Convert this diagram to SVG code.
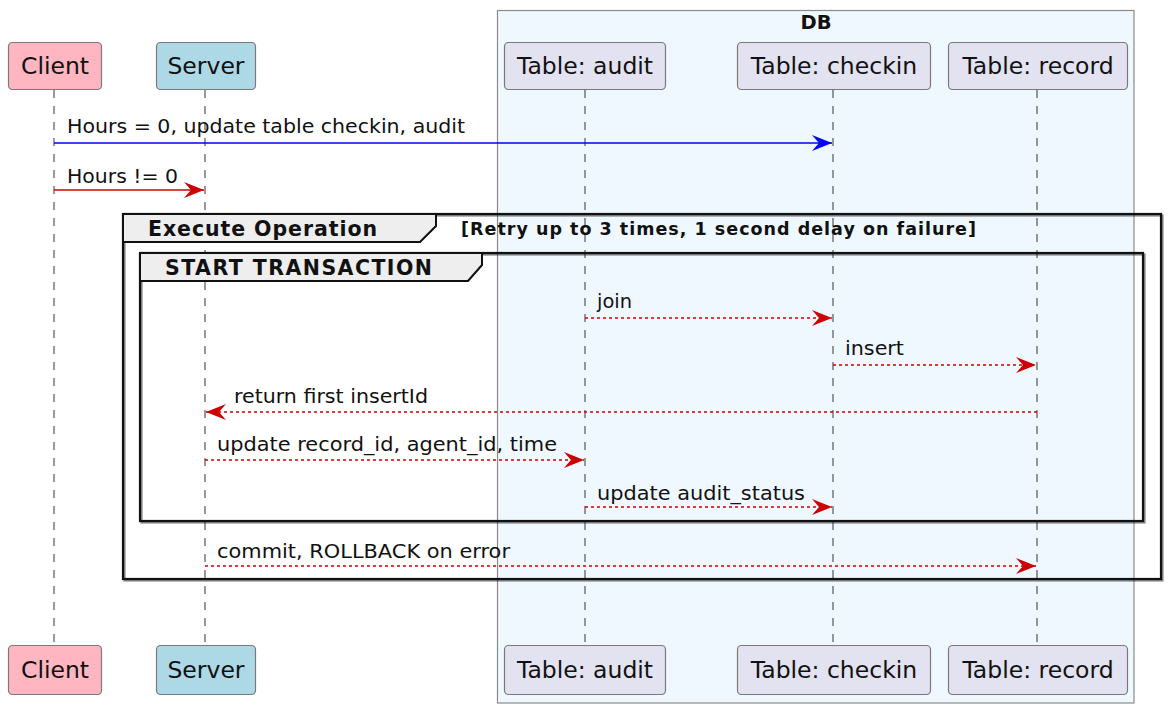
<svg xmlns="http://www.w3.org/2000/svg" width="1168" height="711" viewBox="0 0 1168 711">
<style>
.pbox{stroke:#7a7a7a;stroke-width:1.2}
.ptxt{font-family:"DejaVu Sans",sans-serif;font-size:23.5px;fill:#111;text-anchor:middle}
.life{stroke:#555;stroke-width:1.2;stroke-dasharray:8,8;fill:none}
.msg{font-family:"DejaVu Sans",sans-serif;font-size:19.5px;fill:#111}
.red{stroke:#cc0000;stroke-width:1.6;fill:none}
.reddash{stroke:#cc0000;stroke-width:1.6;fill:none;stroke-dasharray:3,3}
.frame{stroke:#111;stroke-width:2.2;fill:none}
.tab{fill:#eeeeee;stroke:#111;stroke-width:2}
.ftitle{font-family:"DejaVu Sans",sans-serif;font-weight:bold;font-size:20.5px;fill:#111}
.cond{font-family:"DejaVu Sans",sans-serif;font-weight:bold;font-size:17.5px;fill:#111}
</style>
<defs>
<marker id="ar" markerWidth="22" markerHeight="18" refX="20" refY="8" orient="auto" markerUnits="userSpaceOnUse">
<polygon points="0,0 20,8 0,16 7,8" fill="#cc0000"/>
</marker>
<marker id="ab" markerWidth="22" markerHeight="18" refX="20" refY="8" orient="auto" markerUnits="userSpaceOnUse">
<polygon points="0,0 20,8 0,16 7,8" fill="#0000ff"/>
</marker>
</defs>
<rect width="1168" height="711" fill="#ffffff"/>
<g id="DB">
<rect x="497.5" y="10.5" width="636.5" height="692.5" fill="#f0f8ff" stroke="#8a8a8a" stroke-width="1.2"/>
<text x="816" y="29" text-anchor="middle" class="ftitle" style="font-size:19.5px">DB</text>
</g>
<g id="lifelines">
<line class="life" x1="54" y1="90" x2="54" y2="645"/>
<line class="life" x1="205" y1="90" x2="205" y2="645"/>
<line class="life" x1="585" y1="90" x2="585" y2="645"/>
<line class="life" x1="833" y1="90" x2="833" y2="645"/>
<line class="life" x1="1037" y1="90" x2="1037" y2="645"/>
</g>
<g id="Client">
<rect class="pbox" x="8.5" y="42.5" width="93" height="47" rx="4" fill="#ffb6c1"/>
<text class="ptxt" x="55" y="74">Client</text>
<rect class="pbox" x="8.5" y="645.5" width="93" height="49" rx="4" fill="#ffb6c1"/>
<text class="ptxt" x="55" y="678">Client</text>
</g>
<g id="Server">
<rect class="pbox" x="156.5" y="42.5" width="99" height="47" rx="4" fill="#add8e6"/>
<text class="ptxt" x="206" y="74">Server</text>
<rect class="pbox" x="156.5" y="645.5" width="99" height="49" rx="4" fill="#add8e6"/>
<text class="ptxt" x="206" y="678">Server</text>
</g>
<g id="audit">
<rect class="pbox" x="504.5" y="42.5" width="161" height="47" rx="4" fill="#e2e2f0"/>
<text class="ptxt" x="585" y="74">Table: audit</text>
<rect class="pbox" x="504.5" y="645.5" width="161" height="49" rx="4" fill="#e2e2f0"/>
<text class="ptxt" x="585" y="678">Table: audit</text>
</g>
<g id="checkin">
<rect class="pbox" x="737.5" y="42.5" width="193" height="47" rx="4" fill="#e2e2f0"/>
<text class="ptxt" x="834" y="74">Table: checkin</text>
<rect class="pbox" x="737.5" y="645.5" width="193" height="49" rx="4" fill="#e2e2f0"/>
<text class="ptxt" x="834" y="678">Table: checkin</text>
</g>
<g id="record">
<rect class="pbox" x="948.5" y="42.5" width="179" height="47" rx="4" fill="#e2e2f0"/>
<text class="ptxt" x="1038" y="74">Table: record</text>
<rect class="pbox" x="948.5" y="645.5" width="179" height="49" rx="4" fill="#e2e2f0"/>
<text class="ptxt" x="1038" y="678">Table: record</text>
</g>
<g id="loop">
<rect class="frame" x="123" y="214" width="1038" height="365" stroke="#aaa" transform="translate(1.5,1.5)" opacity="0.5"/>
<rect class="frame" x="123" y="214" width="1038" height="365"/>
<polygon class="tab" points="123,214 436,214 436,226 420,242 123,242"/>
<text class="ftitle" x="148" y="236" textLength="229" lengthAdjust="spacing">Execute Operation</text>
<text class="cond" x="461" y="235" textLength="515" lengthAdjust="spacing">[Retry up to 3 times, 1 second delay on failure]</text>
</g>
<g id="transaction">
<rect class="frame" x="140" y="253" width="1003" height="268" stroke="#aaa" transform="translate(1.5,1.5)" opacity="0.5"/>
<rect class="frame" x="140" y="253" width="1003" height="268"/>
<polygon class="tab" points="140,253 482,253 482,265 468,281 140,281"/>
<text class="ftitle" x="165" y="275" textLength="267" lengthAdjust="spacing">START TRANSACTION</text>
</g>
<g id="connectors">
<line x1="54" y1="143" x2="832" y2="143" stroke="#0000ff" stroke-width="1.6" marker-end="url(#ab)"/>
<text class="msg" x="67" y="133" textLength="398" lengthAdjust="spacingAndGlyphs">Hours = 0, update table checkin, audit</text>
<line class="red" x1="54" y1="190" x2="204" y2="190" marker-end="url(#ar)"/>
<text class="msg" x="67" y="183" textLength="111" lengthAdjust="spacingAndGlyphs">Hours != 0</text>
<line class="reddash" x1="585" y1="318" x2="832" y2="318" marker-end="url(#ar)"/>
<text class="msg" x="597" y="308" textLength="35" lengthAdjust="spacingAndGlyphs">join</text>
<line class="reddash" x1="833" y1="365" x2="1036" y2="365" marker-end="url(#ar)"/>
<text class="msg" x="845" y="355" textLength="59" lengthAdjust="spacingAndGlyphs">insert</text>
<line class="reddash" x1="1037" y1="412" x2="206" y2="412" marker-end="url(#ar)"/>
<text class="msg" x="234" y="403" textLength="194" lengthAdjust="spacingAndGlyphs">return first insertId</text>
<line class="reddash" x1="205" y1="460" x2="584" y2="460" marker-end="url(#ar)"/>
<text class="msg" x="217" y="451" textLength="340" lengthAdjust="spacingAndGlyphs">update record_id, agent_id, time</text>
<line class="reddash" x1="585" y1="507" x2="832" y2="507" marker-end="url(#ar)"/>
<text class="msg" x="597" y="500" textLength="208" lengthAdjust="spacingAndGlyphs">update audit_status</text>
<line class="reddash" x1="205" y1="566" x2="1036" y2="566" marker-end="url(#ar)"/>
<text class="msg" x="217" y="558" textLength="293" lengthAdjust="spacingAndGlyphs">commit, ROLLBACK on error</text>
</g>
</svg>
